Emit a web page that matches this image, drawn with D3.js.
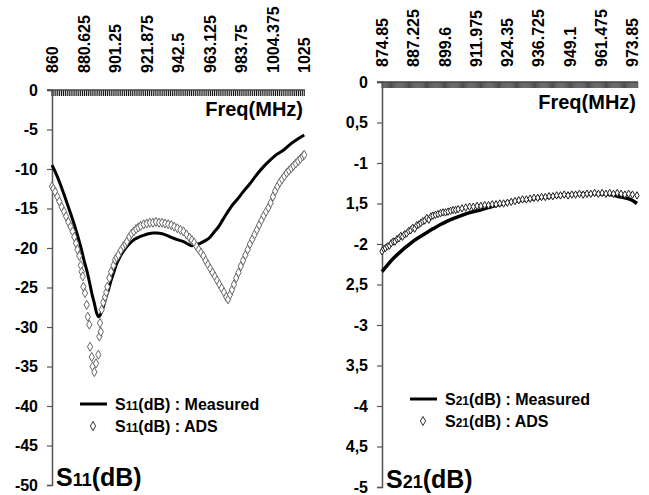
<!DOCTYPE html>
<html>
<head>
<meta charset="utf-8">
<script src="https://cdn.jsdelivr.net/npm/d3@7"></script>
<style>
  body { margin: 0; background: #fff; }
  svg { font-family: "Liberation Sans", Arial, sans-serif; font-weight: bold; }
</style>
</head>
<body>
<div id="chart"></div>
<script>

// S11 panel
const s11Ticks = [860, 880.625, 901.25, 921.875, 942.5, 963.125, 983.75, 1004.375, 1025];
const s11TickLabels = ["860", "880.625", "901.25", "921.875", "942.5", "963.125", "983.75", "1004.375", "1025"];
const s11YTicks = [0, -5, -10, -15, -20, -25, -30, -35, -40, -45, -50];
const s11YLabels = ["0", "-5", "-10", "-15", "-20", "-25", "-30", "-35", "-40", "-45", "-50"];

const s11MeasFreq = [860, 862, 865.2, 868, 870.7, 873, 875, 877, 879.4, 881, 882.7, 884.5, 886, 887.7, 889.3, 890.5, 891.5, 893.6, 895.2, 896.9, 898.5, 900.2, 902.3, 904.5, 906.7, 909, 911, 914, 917, 919.8, 923, 926, 928.6, 932, 935, 937.3, 940, 943, 946, 949, 951.5, 954, 956.9, 960, 963.5, 966, 969, 971.5, 974.4, 977.5, 981, 985, 989.7, 994, 998.4, 1002, 1006, 1011.5, 1015, 1020, 1025];
const s11MeasVal = [-9.5, -10.3, -11.8, -13.3, -14.8, -16.1, -17.3, -18.6, -20.3, -21.6, -22.8, -24.3, -25.7, -27.0, -28.3, -28.7, -28.5, -27.4, -26.3, -25.3, -24.2, -23.2, -22.0, -21.1, -20.4, -19.8, -19.4, -18.9, -18.6, -18.4, -18.2, -18.1, -18.1, -18.2, -18.4, -18.6, -18.8, -19.0, -19.2, -19.5, -19.7, -19.6, -19.4, -19.1, -18.6, -18.0, -17.3, -16.5, -15.6, -14.7, -13.9, -12.9, -11.8, -10.7, -9.7, -9.0, -8.3, -7.6, -7.0, -6.3, -5.7];

const s11AdsFreq = [860, 860.9, 862, 863.5, 864.8, 866.3, 867.9, 869.2, 870.7, 872.2, 873.5, 874.6, 875.7, 876.6, 877.9, 878.8, 879.4, 880.1, 880.5, 881.6, 882.7, 883.4, 884.4, 884.9, 886, 886.6, 887.7, 888.8, 890.3, 891, 891.4, 891.9, 892.5, 893.5, 894.7, 895.5, 896.2, 897.5, 898.6, 900.2, 901.3, 902.3, 903.4, 905, 906.7, 908, 909, 910.6, 912, 913.5, 915, 916.5, 918, 920, 922, 924, 926, 928, 930, 932, 934, 936, 938, 940, 942, 944, 946, 948, 950, 951.5, 953, 954.5, 956, 957.5, 959, 960.5, 962, 963.5, 965, 966.5, 968, 969.5, 971, 972.5, 974, 975.2, 976.5, 977.7, 979, 980.5, 982, 983.5, 985, 986.5, 988, 989.5, 991, 992.5, 994, 995.5, 997, 998.5, 1000, 1001.5, 1003, 1004.5, 1006, 1007.5, 1009, 1010.5, 1012, 1013.5, 1015, 1016.5, 1018, 1019.5, 1021, 1022.5, 1024, 1025];
const s11AdsVal = [-12.2, -12.5, -12.9, -13.5, -14.1, -14.8, -15.4, -16.0, -16.7, -17.3, -17.9, -18.6, -19.4, -20.2, -21.0, -22.2, -23.0, -23.6, -24.9, -25.7, -27.2, -28.7, -29.7, -32.5, -33.8, -35.0, -35.7, -34.6, -33.5, -31.2, -29.5, -30.6, -27.8, -26.9, -26.2, -25.6, -24.9, -23.8, -23.0, -22.2, -21.5, -21.2, -20.9, -20.3, -19.8, -19.5, -19.2, -18.6, -18.2, -17.9, -17.6, -17.4, -17.2, -17.0, -16.9, -16.8, -16.8, -16.7, -16.8, -16.8, -16.9, -17.0, -17.1, -17.3, -17.5, -17.7, -17.9, -18.3, -18.7, -19.0, -19.3, -19.8, -20.2, -20.6, -21.0, -21.6, -22.1, -22.6, -23.1, -23.6, -24.1, -24.6, -25.1, -25.6, -26.2, -26.5, -25.9, -25.3, -24.6, -23.8, -23.1, -22.3, -21.6, -20.9, -20.2, -19.5, -18.9, -18.3, -17.7, -17.1, -16.5, -15.9, -15.4, -14.9, -14.3, -13.5, -12.8, -12.2, -11.7, -11.3, -10.9, -10.5, -10.2, -9.9, -9.6, -9.3, -9.0, -8.7, -8.4, -8.2];

// S21 panel
const s21Ticks = [874.85, 887.225, 899.6, 911.975, 924.35, 936.725, 949.1, 961.475, 973.85];
const s21TickLabels = ["874.85", "887.225", "899.6", "911.975", "924.35", "936.725", "949.1", "961.475", "973.85"];
const s21YTicks = [0, -0.5, -1, -1.5, -2, -2.5, -3, -3.5, -4, -4.5, -5];
const s21YLabels = ["0", "0,5", "-1", "1,5", "-2", "2,5", "-3", "3,5", "-4", "4,5", "-5"];

const s21MeasFreq = [874.85, 877, 879.3, 882, 884.6, 887, 889.9, 892.5, 895.2, 898, 900.5, 903.5, 907, 910, 913.7, 917, 920.3, 923, 925.5, 930, 935, 940, 945, 950, 955, 960, 965, 968, 971, 973.85, 975.8];
const s21MeasVal = [-2.34, -2.26, -2.18, -2.10, -2.03, -1.97, -1.91, -1.86, -1.81, -1.76, -1.72, -1.68, -1.64, -1.61, -1.58, -1.55, -1.52, -1.50, -1.48, -1.46, -1.44, -1.42, -1.40, -1.39, -1.38, -1.38, -1.39, -1.41, -1.43, -1.46, -1.50];

const s21AdsFreq = [874.85, 875.5, 876.2, 877, 877.8, 878.5, 879.3, 880, 880.8, 881.5, 882.3, 883, 883.8, 884.6, 885.4, 886.2, 887, 887.8, 888.6, 889.4, 890.2, 891, 891.8, 892.6, 893.4, 894.2, 895, 896, 897, 898, 899, 900, 901, 902, 903, 904, 905, 906.5, 908, 909.5, 911, 912.5, 914, 915.5, 917, 918.5, 920, 921.5, 923, 924.5, 926, 927.5, 929, 930.5, 932, 933.5, 935, 936.5, 938, 939.5, 941, 942.5, 944, 945.5, 947, 948.5, 950, 951.5, 953, 954.5, 956, 957.5, 959, 960.5, 962, 963.5, 965, 966.5, 968, 969.5, 971, 972.5, 974, 975.8];
const s21AdsVal = [-2.09, -2.06, -2.05, -2.03, -2.02, -1.99, -1.97, -1.97, -1.94, -1.93, -1.90, -1.91, -1.88, -1.87, -1.84, -1.83, -1.80, -1.81, -1.77, -1.76, -1.74, -1.72, -1.71, -1.68, -1.70, -1.66, -1.65, -1.64, -1.63, -1.62, -1.61, -1.61, -1.60, -1.59, -1.58, -1.58, -1.57, -1.56, -1.55, -1.54, -1.54, -1.53, -1.53, -1.52, -1.52, -1.51, -1.51, -1.50, -1.50, -1.49, -1.48, -1.47, -1.46, -1.45, -1.45, -1.44, -1.43, -1.43, -1.42, -1.42, -1.41, -1.41, -1.40, -1.40, -1.39, -1.40, -1.39, -1.39, -1.38, -1.39, -1.38, -1.38, -1.37, -1.38, -1.37, -1.38, -1.37, -1.38, -1.37, -1.38, -1.39, -1.38, -1.39, -1.40];

const width = 649, height = 495;

const svg = d3.select("#chart").append("svg")
    .attr("width", width)
    .attr("height", height);

const drawPanel = (p) => {
    const x = d3.scaleLinear().domain(p.xDomain).range([p.left, p.right]);
    const y = d3.scaleLinear().domain(p.yDomain).range([p.top, p.bottom]);
    const g = svg.append("g");

    // dense category ticks under the top axis
    g.append("g")
        .selectAll("line")
        .data(d3.range(p.xDomain[0], p.xDomain[1] + 1e-6, p.minorStep))
        .join("line")
        .attr("x1", (d) => x(d)).attr("x2", (d) => x(d))
        .attr("y1", p.top).attr("y2", p.top + 6)
        .attr("stroke", p.minorColor)
        .attr("stroke-width", p.minorWidth);

    // y axis
    const yAxis = d3.axisLeft(y)
        .tickValues(p.yTicks)
        .tickFormat((d, i) => p.yLabels[i])
        .tickSize(5)
        .tickPadding(9);
    const ya = g.append("g").attr("transform", `translate(${p.left},0)`).call(yAxis);
    ya.select(".domain").attr("stroke", "#555").attr("stroke-width", 1.5);
    ya.selectAll(".tick line").attr("stroke", "#555").attr("stroke-width", 1.2);
    ya.selectAll(".tick text")
        .attr("font-size", 16)
        .attr("font-family", "Liberation Sans, Arial, sans-serif")
        .attr("font-weight", "bold")
        .attr("fill", "#000");

    // top axis line
    g.append("line")
        .attr("x1", p.left - 5).attr("x2", p.right)
        .attr("y1", p.top).attr("y2", p.top)
        .attr("stroke", "#444").attr("stroke-width", 1.5);

    // rotated x tick labels
    g.append("g")
        .selectAll("text")
        .data(p.xTicks)
        .join("text")
        .attr("transform", (d) => `translate(${x(d) + 6},${p.labelBase}) rotate(-90)`)
        .attr("text-anchor", "start")
        .attr("font-size", 16)
        .text((d, i) => p.xLabels[i]);

    g.append("text")
        .attr("x", p.right - 2)
        .attr("y", p.freqBase)
        .attr("text-anchor", "end")
        .attr("font-size", 20)
        .text("Freq(MHz)");

    // measured line
    const line = d3.line().x((d) => x(d[0])).y((d) => y(d[1])).curve(d3.curveMonotoneX);
    g.append("path")
        .datum(p.measFreq.map((f, i) => [f, p.measVal[i]]))
        .attr("d", line)
        .attr("fill", "none")
        .attr("stroke", "#000")
        .attr("stroke-width", p.lineWidth);

    // ADS markers
    const sym = d3.symbol().type(d3.symbolDiamond).size(p.markerSize);
    g.append("g")
        .selectAll("path")
        .data(p.adsFreq.map((f, i) => [f, p.adsVal[i]]))
        .join("path")
        .attr("transform", (d) => `translate(${x(d[0])},${y(d[1])})`)
        .attr("d", sym)
        .attr("fill", "#fff")
        .attr("stroke", p.markerColor)
        .attr("stroke-width", 1);

    // legend
    const lg = g.append("g").attr("transform", `translate(${p.legendX},${p.legendY})`);
    lg.append("line").attr("x1", 0).attr("x2", 27).attr("y1", 0).attr("y2", 0)
        .attr("stroke", "#000").attr("stroke-width", 3);
    lg.append("path").attr("transform", "translate(13,22)")
        .attr("d", d3.symbol().type(d3.symbolDiamond).size(24))
        .attr("fill", "#fff").attr("stroke", "#333").attr("stroke-width", 1);
    const labels = [" : Measured", " : ADS"];
    labels.forEach((txt, i) => {
        const t = lg.append("text").attr("x", 35).attr("y", 6 + i * 22).attr("font-size", 16);
        t.append("tspan").text("S");
        t.append("tspan").attr("font-size", 12).text(p.sub);
        t.append("tspan").text("(dB)" + txt);
    });

    // y axis title
    const tt = g.append("text").attr("x", p.left + 4).attr("y", p.bottom + 1).attr("font-size", 25);
    tt.append("tspan").text("S");
    tt.append("tspan").attr("font-size", 18).text(p.sub);
    tt.append("tspan").text("(dB)");
};

drawPanel({
    left: 52, right: 305, top: 90, bottom: 485,
    xDomain: [860, 1025.5], yDomain: [0, -50],
    minorStep: 1.25, minorColor: "#111", minorWidth: 1.1,
    xTicks: s11Ticks, xLabels: s11TickLabels,
    yTicks: s11YTicks, yLabels: s11YLabels,
    labelBase: 73, freqBase: 116,
    measFreq: s11MeasFreq, measVal: s11MeasVal, lineWidth: 3,
    adsFreq: s11AdsFreq, adsVal: s11AdsVal,
    markerSize: 24, markerColor: "#666",
    legendX: 80, legendY: 404, sub: "11"
});

drawPanel({
    left: 382, right: 638, top: 82, bottom: 487,
    xDomain: [874.85, 976.2], yDomain: [0, -5],
    minorStep: 0.375, minorColor: "#222", minorWidth: 0.8,
    xTicks: s21Ticks, xLabels: s21TickLabels,
    yTicks: s21YTicks, yLabels: s21YLabels,
    labelBase: 67, freqBase: 109,
    measFreq: s21MeasFreq, measVal: s21MeasVal, lineWidth: 3.5,
    adsFreq: s21AdsFreq, adsVal: s21AdsVal,
    markerSize: 16, markerColor: "#222",
    legendX: 410, legendY: 399, sub: "21"
});
</script>
</body>
</html>
